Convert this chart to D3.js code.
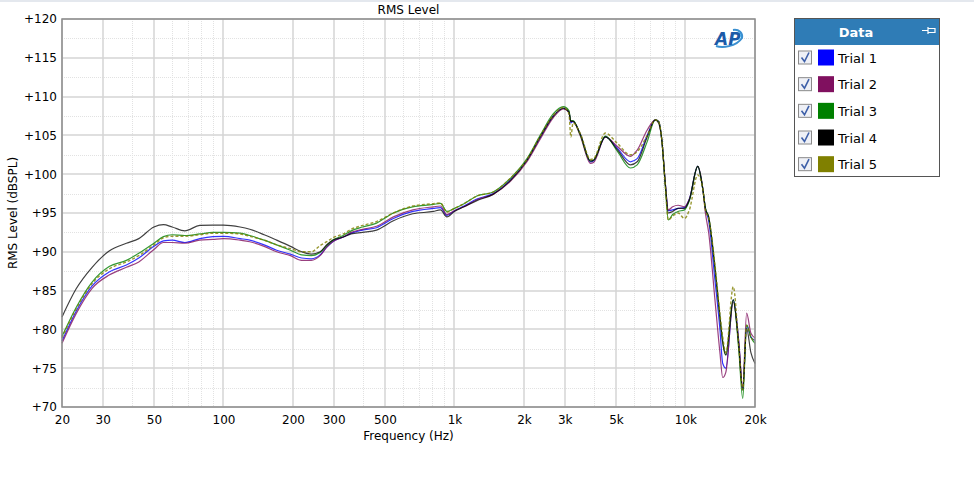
<!DOCTYPE html>
<html><head><meta charset="utf-8">
<script src="https://cdn.jsdelivr.net/npm/d3@7"></script>
<style>body{margin:0;background:#fff;} svg{display:block;font-family:"DejaVu Sans",sans-serif;}</style>
</head><body><svg id="c" width="974" height="495"></svg>
<script>
const freqs=[20,23,27,32,38,43,50,55,60,68,79,90,100,118,130,150,170,195,218,240,262,280,297,330,357,400,460,544,660,810,870,927,1000,1100,1250,1470,1750,2060,2350,2680,2960,3130,3190,3260,3500,3880,4000,4500,5060,5780,6180,6830,7400,7650,7900,8180,8430,8800,9290,9900,10400,11300,11900,12200,12600,13400,14100,14500,14960,16100,17000,17700,18400,19200,20000];
const trial1=[78.5,82.3,85.6,87.4,88.3,89.2,90.7,91.4,91.5,91.2,91.7,91.95,92.0,91.7,91.5,90.9,90.2,89.7,89.2,89.1,89.6,90.6,91.3,91.9,92.4,92.8,93.1,94.3,95.2,95.6,95.7,94.7,95.3,95.9,96.8,97.5,99.3,101.8,104.7,107.5,108.5,108.0,106.6,106.8,105.2,101.6,101.7,104.8,103.4,101.6,102.0,105.0,107.0,106.8,104.4,98.8,95.3,95.4,95.6,95.7,96.8,101.0,98.0,95.6,94.0,86.5,80.0,75.6,75.0,83.8,78.5,72.2,80.5,79.0,78.6];
const trial2=[78.2,82.0,85.3,87.0,88.0,88.7,90.3,91.2,91.2,91.1,91.5,91.6,91.7,91.5,91.3,90.7,90.0,89.5,88.9,88.9,89.5,90.6,91.3,91.9,92.5,92.9,93.3,94.5,95.4,95.8,95.9,94.8,95.3,95.8,96.7,97.4,99.1,101.6,104.5,107.3,108.4,108.0,106.8,106.8,105.0,101.4,101.5,104.8,103.6,102.3,103.1,105.7,107.0,106.8,104.4,98.8,95.4,95.8,96.0,95.8,96.8,101.0,98.0,95.0,92.5,84.0,77.0,73.8,74.5,83.5,78.5,72.5,82.1,79.5,78.9];
const trial3=[79.1,82.8,86.1,88.1,88.9,89.8,91.1,91.95,92.2,92.1,92.3,92.5,92.5,92.4,92.1,91.5,90.9,90.2,89.6,89.5,89.9,90.8,91.5,92.1,92.7,93.2,93.7,95.0,95.8,96.1,96.25,95.2,95.6,96.2,97.2,97.7,99.5,102.0,105.0,107.8,108.7,108.2,106.9,106.9,105.1,101.7,101.8,104.9,103.0,100.8,101.2,104.2,107.0,106.8,104.4,98.5,94.1,94.8,95.2,95.4,96.6,101.0,98.0,95.6,94.5,88.1,81.6,78.5,76.7,83.8,77.5,71.1,80.6,79.0,78.2];
const trial4=[81.6,85.2,88.0,90.1,91.1,91.7,93.2,93.5,93.2,92.7,93.4,93.45,93.45,93.2,92.9,92.2,91.5,90.7,90.0,89.7,90.0,90.9,91.5,91.9,92.3,92.5,92.8,94.0,94.9,95.2,95.4,94.5,95.2,95.8,96.6,97.4,99.2,101.8,104.8,107.5,108.5,108.0,106.8,106.8,105.2,101.7,101.8,104.8,103.2,101.2,101.6,104.8,107.0,106.6,104.4,98.8,95.0,95.2,95.6,95.6,96.7,101.0,98.0,95.6,94.5,88.1,81.6,78.2,76.7,83.8,78.0,72.2,80.1,77.0,75.6];
const trial5=[78.9,82.6,85.9,87.8,88.7,89.5,90.9,91.8,92.0,92.0,92.2,92.4,92.4,92.3,92.0,91.5,90.9,90.4,90.0,90.0,90.8,91.3,91.8,92.3,92.9,93.4,93.9,95.0,95.9,96.2,96.3,95.1,95.6,96.2,97.2,97.7,99.5,101.9,104.9,107.6,108.6,107.8,104.8,106.6,105.3,101.9,102.0,105.3,104.0,102.5,102.9,105.0,107.0,106.8,104.4,98.5,94.1,94.6,95.0,94.3,95.4,99.9,98.0,95.4,94.3,88.5,82.0,79.0,77.0,85.5,78.0,72.2,80.5,79.0,78.5];
const seriesNames=["Trial 1","Trial 2","Trial 3","Trial 4","Trial 5"];
const seriesColors=["#0000ff","#80105f","#008000","#000000","#808000"];
const xTickValues=[20,30,50,100,200,300,500,1000,2000,3000,5000,10000,20000];
const xTickLabels=["20","30","50","100","200","300","500","1k","2k","3k","5k","10k","20k"];
const xMinorValues=[40,60,70,80,90,400,600,700,800,900,4000,6000,7000,8000,9000];
const yTickValues=[70,75,80,85,90,95,100,105,110,115,120];
const yTickLabels=["+70","+75","+80","+85","+90","+95","+100","+105","+110","+115","+120"];
const yMinorValues=[72.5,77.5,82.5,87.5,92.5,97.5,102.5,107.5,112.5,117.5];

const svg=d3.select("#c");
const L=62,T=19,R=755,B=407;
const x=d3.scaleLog().domain([20,20000]).range([L,R]);
const y=d3.scaleLinear().domain([70,120]).range([B,T]);

svg.append("rect").attr("x",0).attr("y",0).attr("width",974).attr("height",2).attr("fill","#e4e8ee");

const g=svg.append("g");
// minor grid
g.selectAll(".xm").data(xMinorValues).enter().append("line")
 .attr("x1",d=>Math.round(x(d))+0.5).attr("x2",d=>Math.round(x(d))+0.5).attr("y1",T).attr("y2",B)
 .attr("stroke","#e2e2e2").attr("stroke-dasharray","1,1");
g.selectAll(".ym").data(yMinorValues).enter().append("line")
 .attr("y1",d=>Math.round(y(d))+0.5).attr("y2",d=>Math.round(y(d))+0.5).attr("x1",L).attr("x2",R)
 .attr("stroke","#e2e2e2").attr("stroke-dasharray","1,1");
// major grid
g.selectAll(".xM").data(xTickValues).enter().append("line")
 .attr("x1",d=>Math.round(x(d))).attr("x2",d=>Math.round(x(d))).attr("y1",T).attr("y2",B)
 .attr("stroke","#d4d4d4").attr("stroke-width",1.5);
g.selectAll(".yM").data(yTickValues).enter().append("line")
 .attr("y1",d=>Math.round(y(d))).attr("y2",d=>Math.round(y(d))).attr("x1",L).attr("x2",R)
 .attr("stroke","#d4d4d4").attr("stroke-width",1.5);

// curves
const allSeries=[trial1,trial2,trial3,trial4,trial5];
const line=d3.line().x((d,i)=>x(freqs[i])).y(d=>y(d)).curve(d3.curveMonotoneX);
const cg=svg.append("g");
allSeries.forEach((s,k)=>{
  cg.append("path").attr("d",line(s)).attr("fill","none")
   .attr("stroke",seriesColors[k]).attr("stroke-width",k===4?1.4:1.2)
   .attr("stroke-opacity",k===3?0.75:0.8)
   .attr("stroke-dasharray",k===4?"3,2":null);
});

// frame
svg.append("rect").attr("x",L).attr("y",T).attr("width",R-L).attr("height",B-T)
 .attr("fill","none").attr("stroke","#8c8c8c").attr("stroke-width",1.5);

// axes
const yAxis=d3.axisLeft(y).tickValues(yTickValues).tickFormat((d,i)=>yTickLabels[i]).tickSize(0).tickPadding(5);
const ya=svg.append("g").attr("transform",`translate(${L},0)`).call(yAxis);
ya.select(".domain").remove();
ya.selectAll("text").attr("font-size",12).attr("font-family","DejaVu Sans").attr("fill","#000");
const xAxis=d3.axisBottom(x).tickValues(xTickValues).tickFormat((d,i)=>xTickLabels[i]).tickSize(0).tickPadding(8);
const xa=svg.append("g").attr("transform",`translate(0,${B})`).call(xAxis);
xa.select(".domain").remove();
xa.selectAll("text").attr("font-size",12).attr("font-family","DejaVu Sans").attr("fill","#000");

svg.append("text").attr("x",(L+R)/2).attr("y",14).attr("text-anchor","middle").attr("font-size",12).text("RMS Level");
svg.append("text").attr("x",(L+R)/2).attr("y",440).attr("text-anchor","middle").attr("font-size",12).text("Frequency (Hz)");
svg.append("text").attr("transform",`translate(17,${(T+B)/2}) rotate(-90)`).attr("text-anchor","middle").attr("font-size",12).text("RMS Level (dBSPL)");

// AP logo
const ap=svg.append("g").attr("transform","translate(712,28)");
ap.append("path").attr("d","M4,18 C10,20 24,19 30,10 C31,5 27,1 21,2").attr("fill","none").attr("stroke","#3a8fd0").attr("stroke-width",2);
ap.append("text").attr("x",3).attr("y",17).attr("font-size",17).attr("font-style","italic").attr("font-weight","bold").attr("fill","#1c5aa8").attr("font-family","DejaVu Sans").text("AP");

// legend
const lg=svg.append("g");
lg.append("rect").attr("x",794.5).attr("y",18.5).attr("width",145).attr("height",158).attr("fill","#fff").attr("stroke","#555");
lg.append("rect").attr("x",795).attr("y",19).attr("width",144).attr("height",26).attr("fill","#2f7cb6");
lg.append("text").attr("x",856).attr("y",37).attr("text-anchor","middle").attr("font-size",13).attr("font-weight","bold").attr("fill","#fff").text("Data");
lg.append("path").attr("d","M922,30.5 H928 M928,27 V34 M928,28.5 H935 V32.5 H928").attr("fill","none").attr("stroke","#fff").attr("stroke-width",1.2);
const rows=lg.selectAll(".row").data(seriesNames).enter().append("g")
 .attr("transform",(d,i)=>`translate(0,${57.5+i*26.67})`);
rows.append("rect").attr("x",798.5).attr("y",-6.5).attr("width",13).attr("height",13).attr("fill","#eef0f6").attr("stroke","#8a8a8a");
rows.append("path").attr("d","M801.5,0 L804.5,4 L809,-5").attr("fill","none").attr("stroke","#3d5fa8").attr("stroke-width",1.6);
rows.append("rect").attr("x",818).attr("y",-8).attr("width",16).attr("height",16).attr("fill",(d,i)=>seriesColors[i]);
rows.append("text").attr("x",838).attr("y",5).attr("font-size",13).attr("fill","#000").text(d=>d);
</script></body></html>
